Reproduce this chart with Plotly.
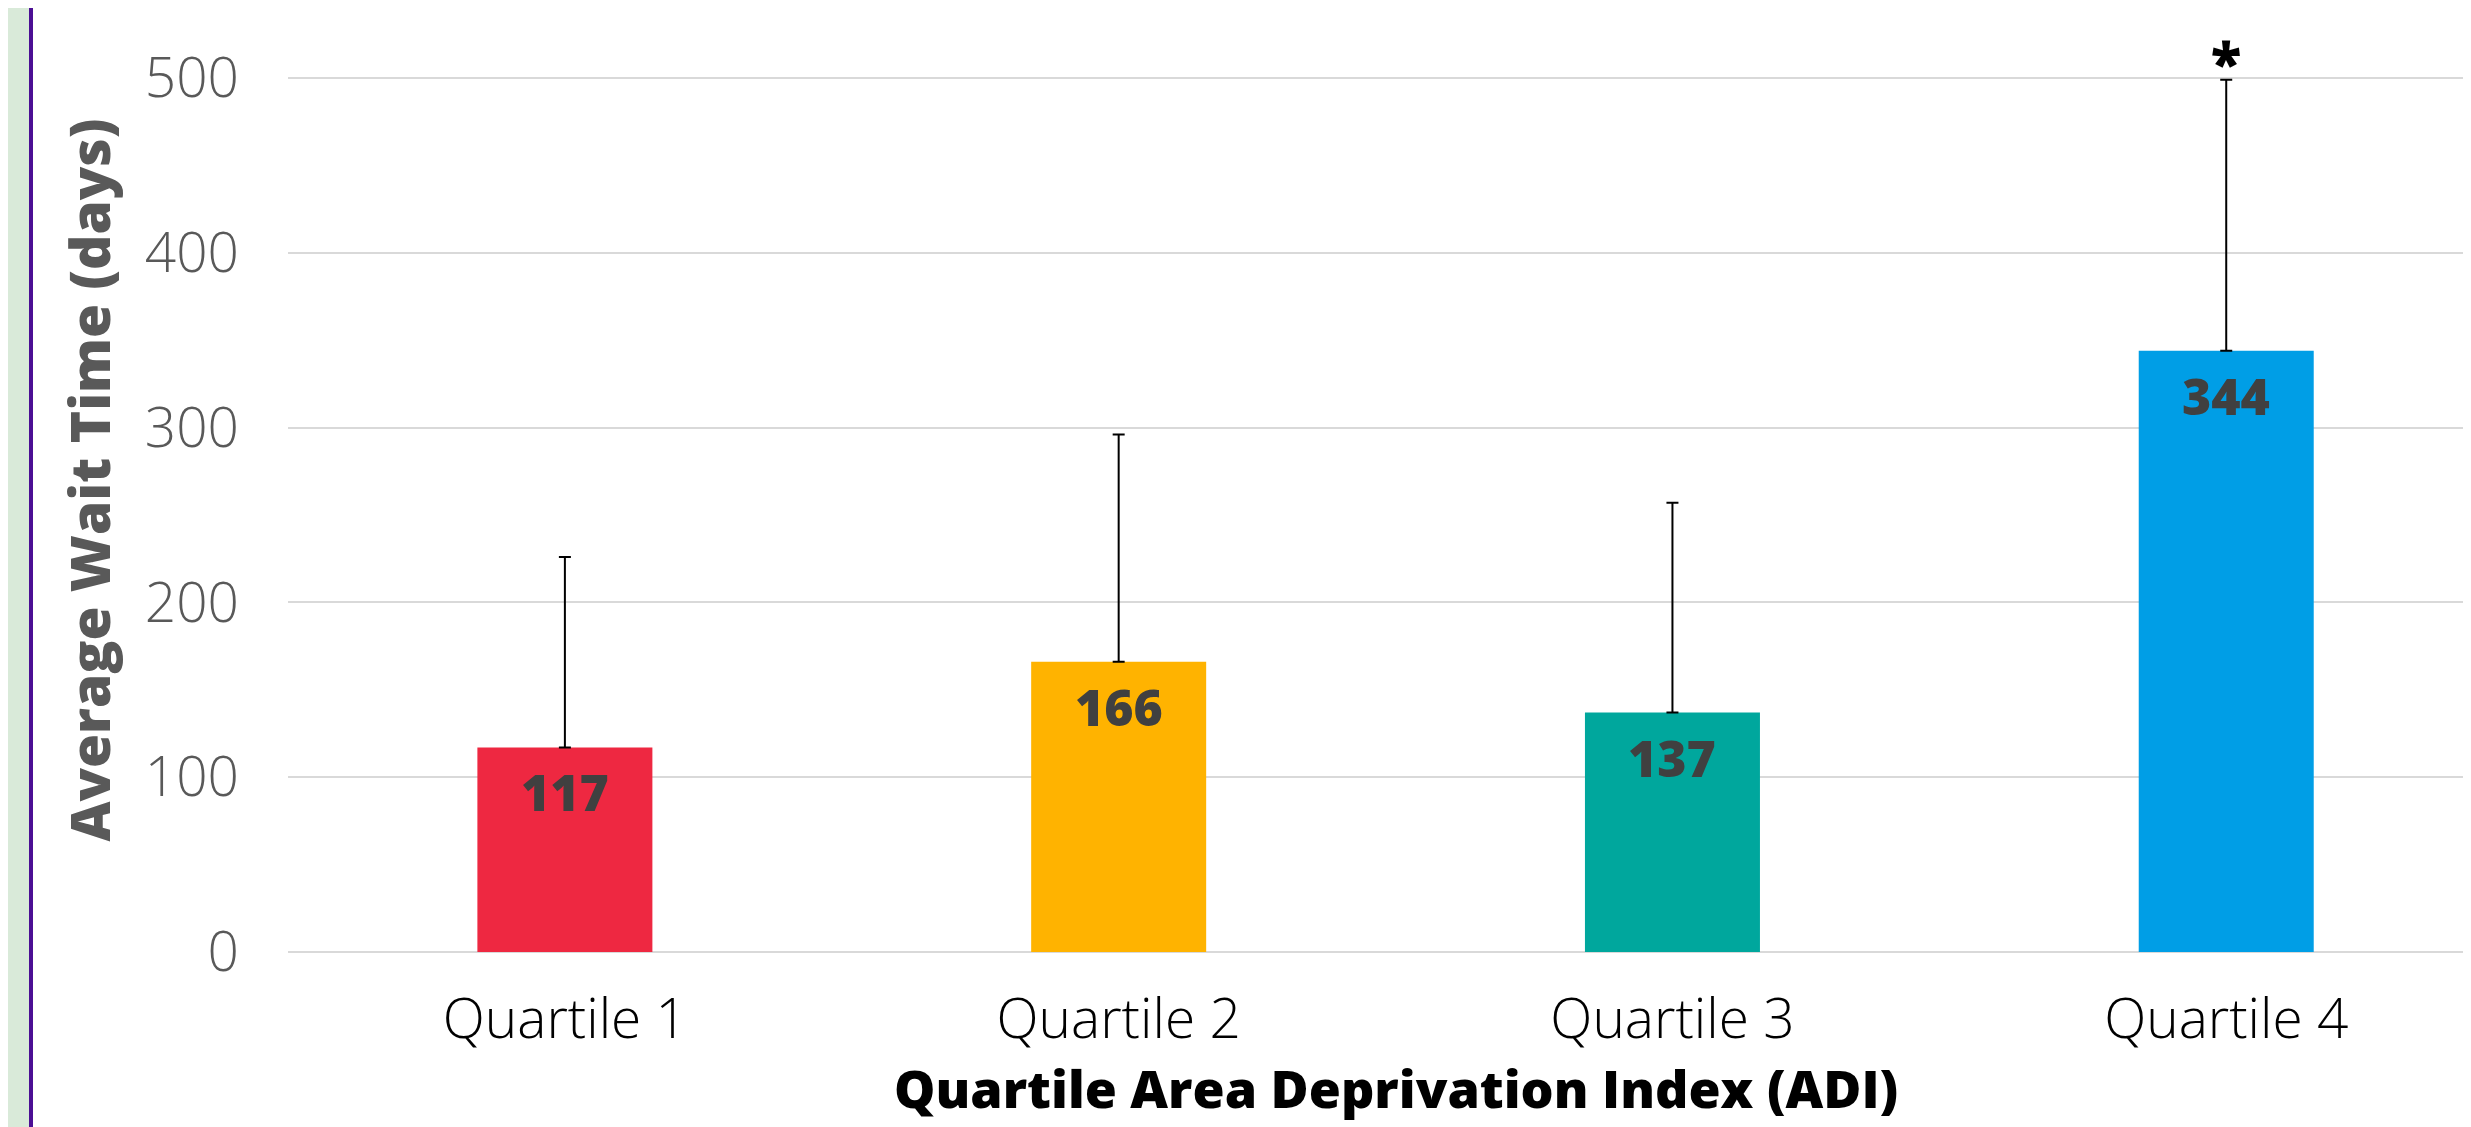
import plotly.graph_objects as go

categories = ["Quartile 1", "Quartile 2", "Quartile 3", "Quartile 4"]
wait_days = [117, 166, 137, 344]
error_plus = [109, 130, 120, 155]
bar_colors = ["#EE2841", "#FFB300", "#00A79D", "#009EE6"]
significance = ["", "", "", "*"]
y_ticks = [0, 100, 200, 300, 400, 500]
x_title = "Quartile Area Deprivation Index (ADI)"
y_title = "Average Wait Time (days)"

# page has an 8px body margin; the figure is sized/offset to compensate
OFF = 8
W, H = 2471 - OFF, 1127 - OFF
ML, MR, MT, MB = 288 - OFF, 0, 0, 175
pw = W - ML - MR
ph = H - MT - MB

fig = go.Figure()
fig.add_trace(go.Bar(
    x=categories, y=wait_days,
    marker=dict(color=bar_colors, line=dict(width=0)),
    width=0.316,
    error_y=dict(type="data", symmetric=False, array=error_plus,
                 arrayminus=[0] * len(error_plus),
                 color="#000000", thickness=2, width=6),
    hoverinfo="skip",
))

# value labels inside the bars
for c, v in zip(categories, wait_days):
    fig.add_annotation(x=c, y=v, text=str(v), showarrow=False,
                       yanchor="middle", yshift=-45,
                       font=dict(family="Open Sans", size=50, color="#404040", weight=800))

# significance markers
for c, v, e, s in zip(categories, wait_days, error_plus, significance):
    if s:
        fig.add_annotation(x=c, y=v + e, text=s, showarrow=False,
                           yanchor="middle", yshift=18,
                           font=dict(family="Open Sans", size=56, color="#000000", weight=800))

# x-axis title (centred on the original, wider plot area)
fig.add_annotation(xref="paper", yref="paper",
                   x=(1396 - OFF - ML) / pw, y=-(1087 - OFF - (H - MB)) / ph,
                   xanchor="center", yanchor="middle", showarrow=False,
                   borderpad=0,
                   text=x_title,
                   font=dict(family="Open Sans", size=52, color="#000000", weight=800))

# decorative left strip (page x 0-29 green, 29-33 purple)
fig.add_shape(type="rect", xref="paper", yref="paper",
              x0=-ML / pw, x1=(29 - OFF - ML) / pw, y0=-MB / ph, y1=1 + MT / ph,
              fillcolor="#D9EAD9", line=dict(width=0), layer="below")
fig.add_shape(type="rect", xref="paper", yref="paper",
              x0=(29 - OFF - ML) / pw, x1=(33 - OFF - ML) / pw, y0=-MB / ph, y1=1 + MT / ph,
              fillcolor="#4B0F94", line=dict(width=0), layer="below")

fig.update_layout(
    width=W, height=H,
    margin=dict(l=ML, r=MR, t=MT, b=MB, pad=0),
    paper_bgcolor="white", plot_bgcolor="white",
    showlegend=False,
    font=dict(family="Open Sans"),
    xaxis=dict(
        range=[-0.5, 3.442],
        showgrid=False, zeroline=False, showline=False, ticks="",
        tickfont=dict(family="Open Sans", size=55, color="#000000", weight=300),
        ticklabelstandoff=30,
    ),
    yaxis=dict(
        range=[0, 540],
        tickvals=y_ticks,
        showgrid=True, gridcolor="#D9D9D9", gridwidth=2,
        zeroline=True, zerolinecolor="#D9D9D9", zerolinewidth=2,
        showline=False, ticks="",
        tickfont=dict(family="Open Sans", size=55, color="#595959", weight=300),
        ticklabelstandoff=48,
        title=dict(text=y_title,
                   font=dict(family="Open Sans", size=55, color="#595959", weight=800),
                   standoff=16),
    ),
)

fig.write_html("out.html")
